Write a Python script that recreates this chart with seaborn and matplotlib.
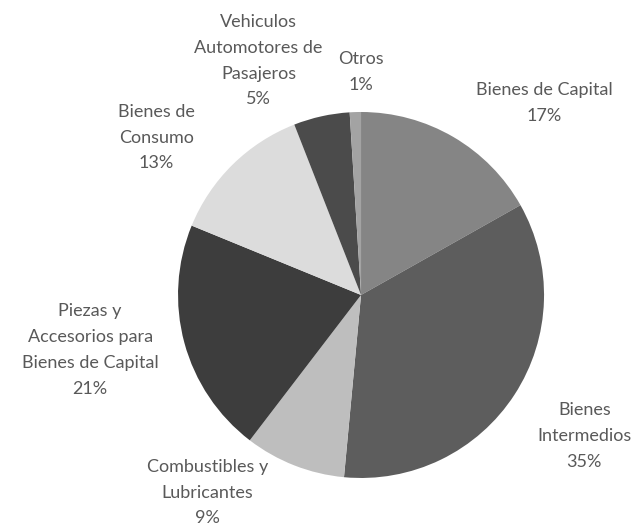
import matplotlib
matplotlib.use("Agg")
import matplotlib.pyplot as plt
import seaborn as sns

# Import composition by economic use (share of total, %)
categorias = [
    "Bienes de Capital",
    "Bienes\nIntermedios",
    "Combustibles y\nLubricantes",
    "Piezas y\nAccesorios para\nBienes de Capital",
    "Bienes de\nConsumo",
    "Vehiculos\nAutomotores de\nPasajeros",
    "Otros",
]
porcentajes = [17, 35, 9, 21, 13, 5, 1]
colores = ["#858585", "#5d5d5d", "#bebebe", "#3d3d3d", "#dcdcdc", "#4b4b4b", "#a3a3a3"]

# label block centres, in pie-radius units relative to the pie centre
pos_etiquetas = [
    (1.00, 1.05),
    (1.22, -0.77),
    (-0.84, -1.08),
    (-1.48, -0.30),
    (-1.12, 0.86),
    (-0.56, 1.28),
    (0.00, 1.22),
]

sns.set_theme(style="white")
plt.rcParams["font.family"] = ["Lato", "DejaVu Sans"]

fig = plt.figure(figsize=(6.34, 5.27), dpi=100)
fig.patch.set_facecolor("white")
ax = fig.add_axes([0.2808, 0.093, 0.5773, 0.6945])

wedges, _ = ax.pie(
    porcentajes,
    colors=colores,
    startangle=90,
    counterclock=False,
    radius=1.0,
    wedgeprops=dict(linewidth=0),
)
ax.set_xlim(-1, 1)
ax.set_ylim(-1, 1)
ax.set_aspect("auto")
ax.axis("off")

for nombre, valor, (x, y) in zip(categorias, porcentajes, pos_etiquetas):
    ax.text(
        x, y, f"{nombre}\n{valor}%",
        ha="center", va="center",
        fontsize=13, color="#595959",
        linespacing=1.75, clip_on=False,
    )

fig.savefig("out.png", dpi=100, facecolor="white")
